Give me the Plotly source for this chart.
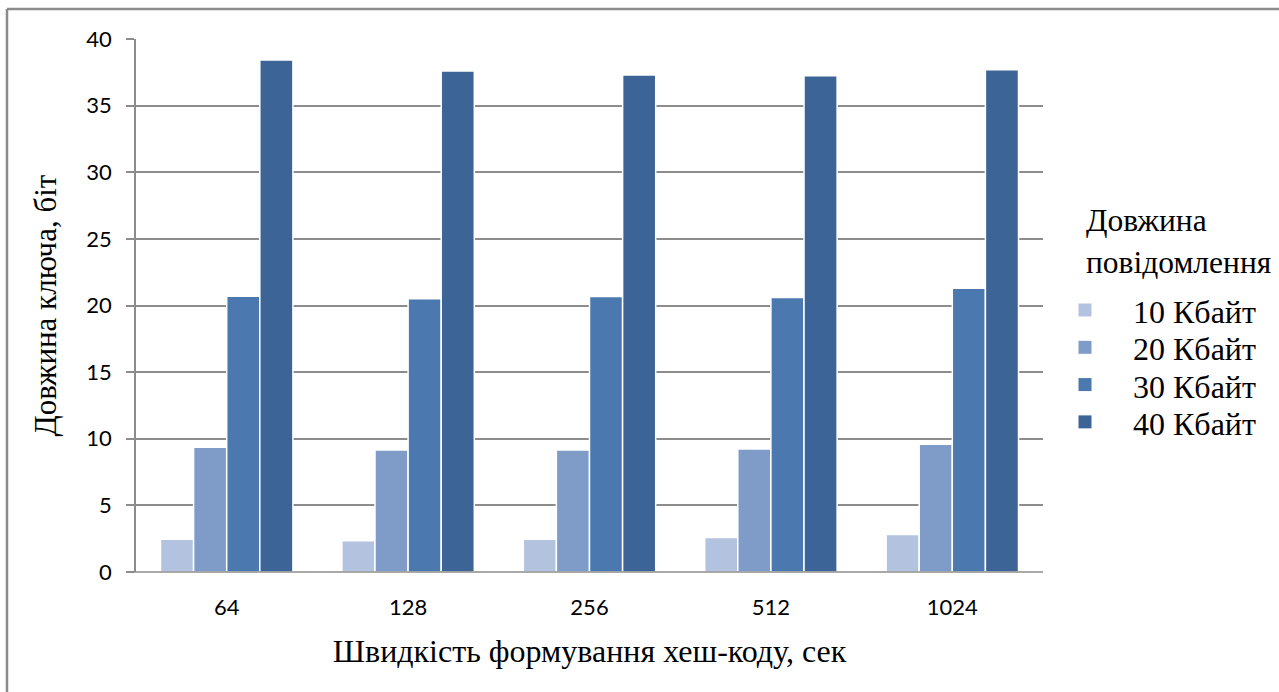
import plotly.graph_objects as go

# Hash-code speed categories (x axis) and key length per message size
categories = ["64", "128", "256", "512", "1024"]
series_names = ["10 Кбайт", "20 Кбайт", "30 Кбайт", "40 Кбайт"]
kb10 = [2.45, 2.35, 2.45, 2.59, 2.81]
kb20 = [9.37, 9.16, 9.16, 9.24, 9.58]
kb30 = [20.7, 20.5, 20.68, 20.6, 21.3]
kb40 = [38.42, 37.6, 37.3, 37.25, 37.7]
y_ticks = [0, 5, 10, 15, 20, 25, 30, 35, 40]
legend_title = ["Довжина", "повідомлення"]

colors = ["#B3C3DF", "#7F9BC7", "#4A78AF", "#3D6496"]
series_values = [kb10, kb20, kb30, kb40]

W, H = 1279, 692
L, R, T, B = 136, 236, 39, 120
pw, ph = W - L - R, H - T - B


def px(x):
    return (x - L) / pw


def py(y):
    return (H - B - y) / ph


fig = go.Figure()
for name, vals, col in zip(series_names, series_values, colors):
    fig.add_trace(go.Bar(
        x=categories, y=vals, name=name, showlegend=False,
        marker=dict(color=col, line=dict(color="white", width=1.5)),
    ))

serif = "Liberation Serif"
sans = "Lato"
grid = "#8c8c8c"

shapes = [
    # frame around the chart area (top and left edges)
    dict(type="line", xref="paper", yref="paper", x0=px(7), x1=px(1290),
         y0=py(9), y1=py(9), line=dict(color="#8c8c8c", width=2.5)),
    dict(type="line", xref="paper", yref="paper", x0=px(7), x1=px(7),
         y0=py(9), y1=py(700), line=dict(color="#8c8c8c", width=2.5)),
    # baseline extension to the left of the axis
    dict(type="line", xref="paper", yref="paper", x0=px(128), x1=1,
         y0=0, y1=0, line=dict(color=grid, width=1.5)),
]
annotations = []

# legend: title lines and one swatch + label per series
for i, line in enumerate(legend_title):
    annotations.append(dict(
        text=line, xref="paper", yref="paper", x=px(1084), y=py(220 + 42 * i),
        xanchor="left", yanchor="middle", showarrow=False,
        font=dict(family=serif, size=31.5, color="black")))

for i, (name, col) in enumerate(zip(series_names, colors)):
    cy = 310 + 37.3 * i
    shapes.append(dict(type="rect", xref="paper", yref="paper",
                       x0=px(1078), x1=px(1092), y0=py(cy + 7), y1=py(cy - 7),
                       fillcolor=col, line=dict(color="white", width=1)))
    annotations.append(dict(
        text=name, xref="paper", yref="paper", x=px(1131), y=py(cy + 2),
        xanchor="left", yanchor="middle", showarrow=False,
        font=dict(family=serif, size=32, color="black")))

fig.update_layout(
    width=W, height=H,
    margin=dict(l=L, r=R, t=T, b=B),
    paper_bgcolor="white", plot_bgcolor="white",
    barmode="group", bargap=0.27, bargroupgap=0,
    showlegend=False,
    xaxis=dict(
        type="category", showgrid=False, showline=False, zeroline=False,
        ticks="", ticklabelstandoff=20,
        tickfont=dict(family=sans, size=22, color="black"),
        title=dict(text="Швидкість формування хеш-коду, сек",
                   font=dict(family=serif, size=32, color="black"), standoff=20),
    ),
    yaxis=dict(
        range=[0, 40], tickvals=y_ticks, showgrid=True, gridcolor=grid, gridwidth=1.5,
        showline=True, linecolor=grid, linewidth=1.5, zeroline=False,
        ticks="outside", ticklen=8, tickcolor=grid, tickwidth=1.5,
        ticklabelstandoff=10,
        tickfont=dict(family=sans, size=22, color="black"),
        title=dict(text="Довжина ключа, біт",
                   font=dict(family=serif, size=31, color="black"), standoff=20),
    ),
    shapes=shapes,
    annotations=annotations,
)

fig.write_html("out.html")
